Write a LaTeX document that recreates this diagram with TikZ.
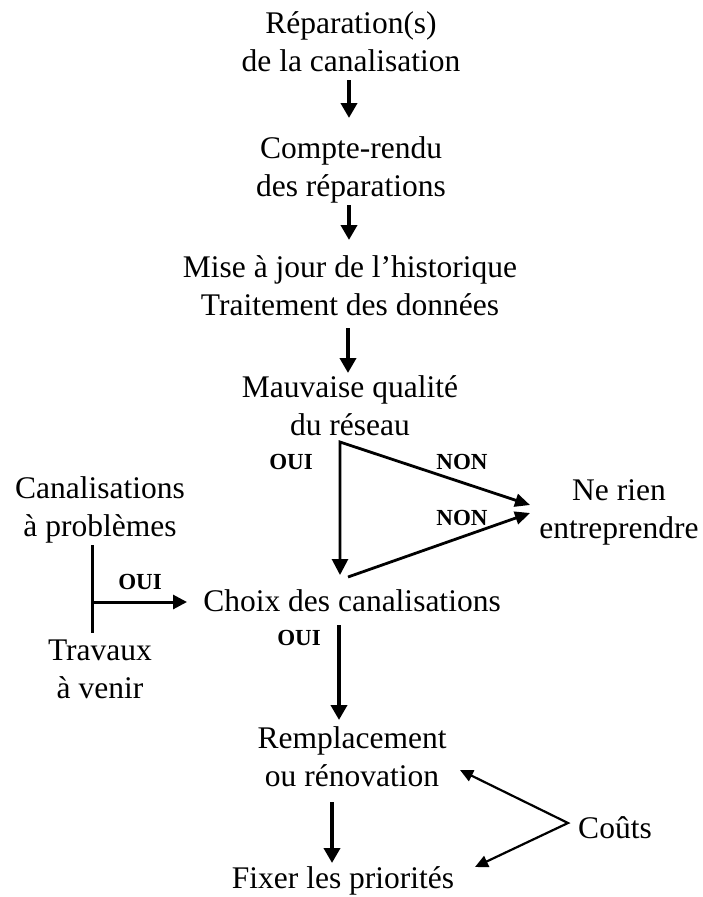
\documentclass[tikz,border=0pt]{standalone}
\usepackage{fontspec}
\setmainfont{Liberation Serif}
\usetikzlibrary{arrows.meta}
\tikzset{
  txt/.style={font=\fontsize{31.5}{38}\selectfont, align=center, inner sep=0pt, anchor=base},
  lbl/.style={font=\fontsize{23}{25}\selectfont\bfseries, inner sep=0pt, anchor=center},
  bigarrow/.style={line width=3.8pt, -{Triangle[length=15pt,width=16pt]}},
  triarrow/.style={line width=2.8pt, line join=miter},
  plainline/.style={line width=3pt},
  thinline/.style={line width=2.2pt, line join=miter},
}
\begin{document}
\begin{tikzpicture}[x=1pt,y=-1pt]
\useasboundingbox (0,0) rectangle (703,897);
% text blocks (base = baseline of the last line)
\node[txt] (rep) at (351,71) {Réparation(s)\\de la canalisation};
\node[txt] (cr) at (351,196) {Compte-rendu\\des réparations};
\node[txt] (maj) at (350,315) {Mise à jour de l’historique\\Traitement des données};
\node[txt] (mq) at (350,435) {Mauvaise qualité\\du réseau};
\node[txt] (rien) at (619,538) {Ne rien\\entreprendre};
\node[txt] (canp) at (100,536) {Canalisations\\à problèmes};
\node[txt] (choix) at (352,611) {Choix des canalisations};
\node[txt] (trav) at (100,698) {Travaux\\à venir};
\node[txt] (rr) at (352,786) {Remplacement\\ou rénovation};
\node[txt] (fix) at (343,888) {Fixer les priorités};
\node[txt] (couts) at (615,838) {Coûts};
% labels
\node[lbl] (oui1) at (291,462) {OUI};
\node[lbl] (non1) at (462,462) {NON};
\node[lbl] (non2) at (462,518) {NON};
\node[lbl] (oui2) at (140,582) {OUI};
\node[lbl] (oui3) at (299,638) {OUI};
% vertical chain
\draw[bigarrow] ([xshift=-2pt,yshift=-9pt]rep.base) -- ([xshift=-2pt,yshift=78pt]cr.base);
\draw[bigarrow] ([xshift=-2pt,yshift=-9pt]cr.base) -- ([xshift=-1pt,yshift=75pt]maj.base);
\draw[bigarrow] ([xshift=-2pt,yshift=-13pt]maj.base) -- ([xshift=-2pt,yshift=62pt]mq.base);
% triangle
\coordinate (tv) at ([xshift=-10pt,yshift=-7pt]mq.base);
\draw[triarrow, {Triangle[length=15pt,width=13pt]}-{Triangle[length=16pt,width=16pt]}]
  ([xshift=-89pt,yshift=33pt]rien.base) -- (tv) -- ([xshift=-12pt,yshift=36pt]choix.base);
\draw[line width=2.8pt, -{Triangle[length=15pt,width=13pt]}]
  ([xshift=-4pt,yshift=34pt]choix.base) -- ([xshift=-89pt,yshift=25pt]rien.base);
% left inputs
\coordinate (jt) at ([xshift=-8pt,yshift=-9pt]canp.base);
\coordinate (jb) at ([xshift=-8pt,yshift=65pt]trav.base);
\coordinate (jtip) at ([xshift=-165pt,yshift=9pt]choix.base);
\draw[plainline] (jt) -- (jb);
\draw[line width=3pt, -{Triangle[length=14pt,width=14pt]}] (jt |- jtip) -- (jtip);
% lower chain
\draw[bigarrow] ([xshift=-13pt,yshift=-14pt]choix.base) -- ([xshift=-13pt,yshift=66pt]rr.base);
\draw[bigarrow] ([xshift=-20pt,yshift=-16pt]rr.base) -- ([xshift=-11pt,yshift=25pt]fix.base);
% costs
\coordinate (cv) at ([xshift=-47pt,yshift=15pt]couts.base);
\draw[thinline, {Triangle[length=13pt,width=12pt]}-{Triangle[length=13pt,width=12pt]}]
  ([xshift=108pt,yshift=16pt]rr.base) -- (cv) -- ([xshift=132pt,yshift=21pt]fix.base);
\end{tikzpicture}
\end{document}
